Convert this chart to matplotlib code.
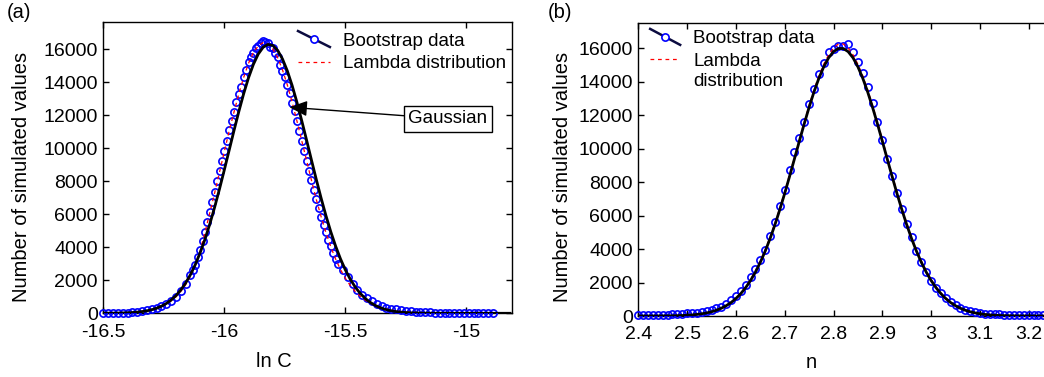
import numpy as np
import matplotlib
matplotlib.use('Agg')
import matplotlib.pyplot as plt
from matplotlib.legend_handler import HandlerLine2D
from matplotlib.lines import Line2D
from matplotlib.ticker import FuncFormatter

plt.rcParams['font.family'] = ['Liberation Sans', 'DejaVu Sans']
plt.rcParams['axes.unicode_minus'] = False
FS_LABEL = 14.5
FS_TICK = 14
FS_LEG = 13.5

# ---------------- panel (a): ln C ----------------
lnC_boot_x = [-16.50, -16.48, -16.46, -16.44, -16.42, -16.40, -16.38, -16.36, -16.34, -16.32,
              -16.30, -16.28, -16.26, -16.24, -16.22, -16.20, -16.18, -16.16, -16.14,
              -16.13, -16.12, -16.11, -16.10, -16.09, -16.08, -16.07, -16.06, -16.05, -16.04,
              -16.03, -16.02, -16.01, -16.00, -15.99, -15.98, -15.97, -15.96, -15.95, -15.94,
              -15.93, -15.92, -15.91, -15.90, -15.89, -15.88, -15.87, -15.86, -15.85, -15.84,
              -15.83, -15.82, -15.81, -15.80, -15.79, -15.78, -15.77, -15.76, -15.75, -15.74,
              -15.73, -15.72, -15.71, -15.70, -15.69, -15.68, -15.67, -15.66, -15.65, -15.64,
              -15.63, -15.62, -15.61, -15.60, -15.59, -15.58, -15.57, -15.56, -15.55, -15.54,
              -15.53,
              -15.51, -15.49, -15.47, -15.45, -15.43, -15.41, -15.39, -15.37, -15.35, -15.33,
              -15.31, -15.29, -15.27, -15.25, -15.23, -15.21, -15.19, -15.17, -15.15, -15.13,
              -15.11, -15.09, -15.07, -15.05, -15.03, -15.01, -14.99, -14.97, -14.95, -14.93,
              -14.91, -14.89]
lnC_boot_y = [20, 20, 25, 25, 30, 40, 50, 80, 120, 170,
              230, 320, 420, 560, 740, 1000, 1350, 1780, 2300,
              2600, 2950, 3400, 3850, 4400, 4950, 5550, 6150, 6750, 7350,
              8000, 8600, 9250, 9850, 10450, 11100, 11650, 12200, 12800, 13300,
              13700, 14300, 14750, 15250, 15500, 15800, 16050, 16200, 16350, 16500,
              16420, 16350, 16150, 16100, 15800, 15500, 15050, 14700, 14300, 13850,
              13350, 12750, 12250, 11650, 11050, 10450, 9850, 9250, 8650, 8050,
              7450, 6900, 6350, 5850, 5350, 4900, 4450, 4050, 3650, 3300,
              2980,
              2650, 2200, 1800, 1420, 1130, 950, 720, 560, 440, 340,
              280, 230, 190, 150, 120, 100, 80, 65, 55, 45,
              40, 35, 30, 30, 25, 25, 20, 20, 20, 20,
              20, 20]

lnC_fit_x = [-16.50, -16.48, -16.46, -16.44, -16.42, -16.40, -16.38, -16.36, -16.34, -16.32,
             -16.30, -16.28, -16.26, -16.24, -16.22, -16.20, -16.18, -16.16, -16.14, -16.12,
             -16.10, -16.08, -16.06, -16.04, -16.02, -16.00, -15.98, -15.96, -15.94, -15.92,
             -15.90, -15.88, -15.86, -15.84, -15.82, -15.80, -15.78, -15.76, -15.74, -15.72,
             -15.70, -15.68, -15.66, -15.64, -15.62, -15.60, -15.58, -15.56, -15.54, -15.52,
             -15.50, -15.48, -15.46, -15.44, -15.42, -15.40, -15.38, -15.36, -15.34, -15.32,
             -15.30, -15.28, -15.26, -15.24, -15.22, -15.20, -15.18, -15.16, -15.14, -15.12,
             -15.10, -15.08, -15.06, -15.04, -15.02, -15.00, -14.98, -14.96, -14.94, -14.92,
             -14.90, -14.88, -14.86, -14.84, -14.82]
lnC_gauss_y = [3, 5, 8, 12, 20, 30, 46, 70, 103, 151,
               217, 307, 429, 591, 802, 1071, 1411, 1832, 2342, 2954,
               3668, 4489, 5413, 6434, 7534, 8694, 9886, 11079, 12233, 13312,
               14274, 15082, 15705, 16114, 16293, 16233, 15938, 15420, 14701, 13811,
               12784, 11664, 10486, 9288, 8108, 6975, 5912, 4937, 4065, 3297,
               2634, 2075, 1610, 1232, 929, 690, 505, 364, 259, 181,
               125, 85, 57, 38, 25, 16, 10, 6, 4, 2,
               1, 1, 0, 0, 0, 0, 0, 0, 0, 0,
               0, 0, 0, 0, 0]
lnC_lambda_y = [5, 8, 12, 17, 25, 37, 54, 78, 112, 160,
                225, 310, 420, 565, 750, 990, 1320, 1730, 2250, 2900,
                3780, 4900, 6100, 7300, 8550, 9800, 11050, 12200, 13300, 14300,
                15150, 15800, 16200, 16400, 16330, 16030, 15500, 14760, 13850, 12800,
                11650, 10450, 9250, 8060, 6900, 5850, 4880, 4020, 3280, 2650,
                2120, 1690, 1340, 1050, 820, 640, 495, 380, 290, 220,
                165, 125, 93, 69, 51, 38, 28, 20, 15, 11,
                8, 6, 4, 3, 2, 2, 1, 1, 1, 1,
                0, 0, 0, 0, 0]

# ---------------- panel (b): n ----------------
n_x = [2.40, 2.41, 2.42, 2.43, 2.44, 2.45, 2.46, 2.47, 2.48, 2.49,
       2.50, 2.51, 2.52, 2.53, 2.54, 2.55, 2.56, 2.57, 2.58, 2.59,
       2.60, 2.61, 2.62, 2.63, 2.64, 2.65, 2.66, 2.67, 2.68, 2.69,
       2.70, 2.71, 2.72, 2.73, 2.74, 2.75, 2.76, 2.77, 2.78, 2.79,
       2.80, 2.81, 2.82, 2.83, 2.84, 2.85, 2.86, 2.87, 2.88, 2.89,
       2.90, 2.91, 2.92, 2.93, 2.94, 2.95, 2.96, 2.97, 2.98, 2.99,
       3.00, 3.01, 3.02, 3.03, 3.04, 3.05, 3.06, 3.07, 3.08, 3.09,
       3.10, 3.11, 3.12, 3.13, 3.14, 3.15, 3.16, 3.17, 3.18, 3.19,
       3.20, 3.21, 3.22, 3.23, 3.24]
n_boot_y = [40, 40, 45, 50, 55, 70, 80, 95, 110, 130,
            150, 170, 200, 240, 290, 360, 450, 560, 720, 950,
            1180, 1500, 1880, 2300, 2800, 3350, 3950, 4750, 5600, 6550,
            7500, 8700, 9800, 10650, 11600, 12650, 13550, 14450, 15100, 15750,
            15950, 16100, 16150, 16250, 15750, 15200, 14500, 13650, 12700, 11600,
            10500, 9400, 8350, 7350, 6400, 5500, 4700, 3900, 3200, 2600,
            2100, 1700, 1350, 1080, 830, 640, 500, 380, 290, 220,
            170, 140, 120, 100, 90, 80, 70, 60, 55, 50,
            45, 40, 40, 35, 30]
n_gauss_y = [0, 1, 1, 2, 4, 6, 9, 14, 21, 31,
             46, 65, 94, 132, 183, 252, 344, 462, 613, 803,
             1043, 1336, 1693, 2118, 2620, 3205, 3871, 4621, 5453, 6357,
             7325, 8341, 9390, 10443, 11477, 12466, 13383, 14198, 14884, 15422,
             15790, 15977, 15977, 15790, 15422, 14884, 14198, 13383, 12466, 11477,
             10443, 9390, 8341, 7325, 6357, 5453, 4621, 3871, 3205, 2620,
             2118, 1693, 1336, 1043, 803, 613, 462, 344, 252, 183,
             132, 94, 65, 46, 31, 21, 14, 9, 6, 4,
             2, 1, 1, 0, 0]
n_lambda_y = [2, 3, 4, 6, 8, 11, 15, 21, 29, 40,
              55, 75, 102, 138, 186, 250, 334, 444, 600, 800,
              1060, 1370, 1750, 2190, 2700, 3290, 3960, 4710, 5540, 6450,
              7420, 8440, 9490, 10540, 11580, 12580, 13510, 14340, 15040, 15600,
              16000, 16250, 16250, 16000, 15600, 15040, 14340, 13510, 12580, 11580,
              10540, 9490, 8440, 7420, 6450, 5540, 4710, 3960, 3290, 2700,
              2190, 1750, 1380, 1080, 830, 630, 470, 345, 250, 178,
              125, 86, 58, 39, 26, 17, 11, 7, 5, 3,
              2, 1, 1, 0, 0]

lnC_xticks = [-16.5, -16, -15.5, -15]
n_xticks = [2.4, 2.5, 2.6, 2.7, 2.8, 2.9, 3.0, 3.1, 3.2]
yticks = [0, 2000, 4000, 6000, 8000, 10000, 12000, 14000, 16000]
labels = ['Bootstrap data', 'Lambda distribution', 'Lambda\ndistribution', 'Gaussian']

BLUE = '#0000ff'
RED = '#ff0000'
NAVY = '#0c0c40'


class SlopedHandler(HandlerLine2D):
    def __init__(self, drop=0.0, dy=0.0, **kw):
        super().__init__(**kw)
        self.drop = drop
        self.dy = dy

    def create_artists(self, legend, orig_handle, xdescent, ydescent,
                       width, height, fontsize, trans):
        x0 = -xdescent
        x1 = -xdescent + width
        yc = (height - ydescent) / 2 + self.dy
        line = Line2D([x0, x1], [yc + self.drop / 2, yc - self.drop / 2])
        self.update_prop(line, orig_handle, legend)
        line.set_marker('None')
        line.set_transform(trans)
        arts = [line]
        if orig_handle.get_marker() not in (None, 'None', ''):
            mk = Line2D([(x0 + x1) / 2], [yc])
            self.update_prop(mk, orig_handle, legend)
            mk.set_linestyle('None')
            mk.set_transform(trans)
            arts.append(mk)
        return arts


fig = plt.figure(figsize=(10.44, 3.77), dpi=100)
ax1 = fig.add_axes([0.0990, 0.169, 0.3917, 0.7735])
ax2 = fig.add_axes([0.6114, 0.1618, 0.4207, 0.7772])


def style(ax):
    ax.tick_params(direction='in', length=4, width=1, top=True, right=True,
                   labelsize=FS_TICK, colors='black')
    ax.tick_params(axis='x', pad=7.5)
    ax.tick_params(axis='y', pad=4)
    for s in ax.spines.values():
        s.set_linewidth(1.0)
    ax.set_yticks(yticks)


MS = 5.2
# panel (a)
ax1.plot(lnC_boot_x, lnC_boot_y, 'o', ms=MS, mfc='none', mec=BLUE, mew=1.2,
         clip_on=False, zorder=3)
ax1.plot(lnC_fit_x, lnC_lambda_y, color=RED, lw=0.9, ls=(0, (3, 3)), zorder=4)
ax1.plot(lnC_fit_x, lnC_gauss_y, color='black', lw=2.0, zorder=5)
ax1.set_xlim(-16.5, -14.81)
ax1.set_ylim(0, 17670)
ax1.set_xticks(lnC_xticks)
ax1.xaxis.set_major_formatter(FuncFormatter(lambda v, p: '%g' % v))
style(ax1)
ax1.set_xlabel('ln C', fontsize=FS_LABEL)
ax1.set_ylabel('Number of simulated values', fontsize=FS_LABEL)
ax1.xaxis.set_label_coords(0.416, -0.132)
ax1.yaxis.set_label_coords(-0.176, 0.468)

hb = Line2D([], [], color=NAVY, lw=1.8, marker='o', ms=MS, mfc='white', mec=BLUE, mew=1.2)
hl = Line2D([], [], color=RED, lw=0.9, ls=(0, (3, 3)))
ax1.legend([hb, hl], labels[:2], loc='upper left', bbox_to_anchor=(0.476, 0.963),
           frameon=False, fontsize=FS_LEG, handlelength=1.7, handletextpad=0.7,
           labelspacing=0.3, borderpad=0, borderaxespad=0,
           handler_map={hb: SlopedHandler(drop=11.5), hl: SlopedHandler(drop=0)})

ax1.annotate(labels[3], xy=(-15.731, 12485), xytext=(-15.0756, 11775),
             ha='center', va='center', fontsize=FS_LEG,
             bbox=dict(boxstyle='square,pad=0.22', fc='white', ec='black', lw=1.0),
             arrowprops=dict(arrowstyle='-|>,head_length=0.8,head_width=0.35',
                             color='black', lw=1.0, shrinkA=0, shrinkB=0),
             zorder=6)

# panel (b)
ax2.plot(n_x, n_boot_y, 'o', ms=MS, mfc='none', mec=BLUE, mew=1.2,
         clip_on=False, zorder=3)
ax2.plot(n_x, n_lambda_y, color=RED, lw=0.9, ls=(0, (3, 3)), zorder=4)
ax2.plot(n_x, n_gauss_y, color='black', lw=2.0, zorder=5)
ax2.set_xlim(2.4, 3.3)
ax2.set_ylim(0, 17500)
ax2.set_xticks(n_xticks)
ax2.xaxis.set_major_formatter(FuncFormatter(lambda v, p: '%g' % round(v, 2)))
style(ax2)
ax2.set_xlabel('n', fontsize=FS_LABEL)
ax2.set_ylabel('Number of simulated values', fontsize=FS_LABEL)
ax2.xaxis.set_label_coords(0.393, -0.125)
ax2.yaxis.set_label_coords(-0.150, 0.473)

hb2 = Line2D([], [], color=NAVY, lw=1.8, marker='o', ms=MS, mfc='white', mec=BLUE, mew=1.2)
hl2 = Line2D([], [], color=RED, lw=0.9, ls=(0, (3, 3)))
ax2.legend([hb2, hl2], [labels[0], labels[2]], loc='upper left', bbox_to_anchor=(0.027, 0.975),
           frameon=False, fontsize=FS_LEG, handlelength=1.6, handletextpad=0.7,
           labelspacing=0.3, borderpad=0, borderaxespad=0,
           handler_map={hb2: SlopedHandler(drop=11.5), hl2: SlopedHandler(drop=0, dy=9)})

fig.text(6.5 / 1044, 1 - 13 / 377, '(a)', fontsize=FS_LABEL, ha='left', va='center')
fig.text(548 / 1044, 1 - 13 / 377, '(b)', fontsize=FS_LABEL, ha='left', va='center')

fig.savefig('out.png', dpi=100)
